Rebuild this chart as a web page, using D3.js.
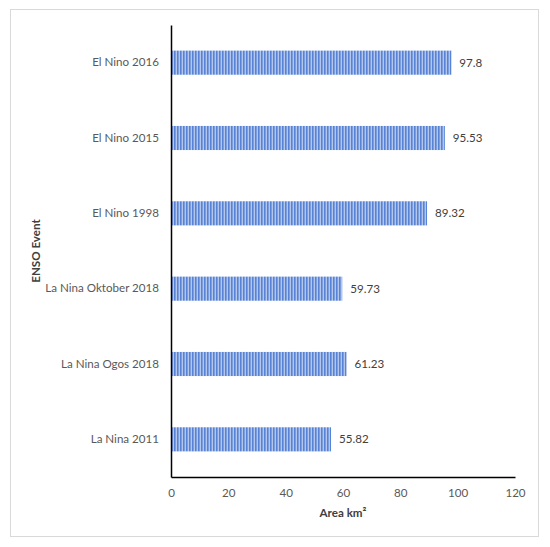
<!DOCTYPE html>
<html>
<head>
<meta charset="utf-8">
<script src="https://cdn.jsdelivr.net/npm/d3@7"></script>
<style>
  html, body { margin: 0; padding: 0; background: #fff; }
  text { font-family: Lato, "Open Sans", sans-serif; }
</style>
</head>
<body>
<svg id="chart" width="550" height="547"></svg>
<script>
const categories = ["El Nino 2016", "El Nino 2015", "El Nino 1998", "La Nina Oktober 2018", "La Nina Ogos 2018", "La Nina 2011"];
const values = [97.8, 95.53, 89.32, 59.73, 61.23, 55.82];
const xTicks = [0, 20, 40, 60, 80, 100, 120];

const svg = d3.select("#chart");
const x0 = 171, x1 = 515, y0 = 25, y1 = 477;
const fs = 11.6;

// outer frame
svg.append("rect").attr("x", 10.5).attr("y", 9.5).attr("width", 528).attr("height", 527)
  .attr("fill", "#fff").attr("stroke", "#d9d9d9").attr("stroke-width", 1);

// pattern
const defs = svg.append("defs");
const pat = defs.append("pattern").attr("id", "stripes").attr("patternUnits", "userSpaceOnUse")
  .attr("width", 3).attr("height", 10);
pat.append("rect").attr("width", 3).attr("height", 10).attr("fill", "#b2c6ee");
pat.append("rect").attr("width", 1.6).attr("height", 10).attr("fill", "#5882d4");

const x = d3.scaleLinear().domain([0, 120]).range([x0, x1]);
const y = d3.scaleBand().domain(categories).range([y0, y1]).paddingInner(0.68).paddingOuter(0.34);

// bars
svg.append("g").selectAll("rect").data(categories).join("rect")
  .attr("x", x(0) + 1)
  .attr("y", d => y(d))
  .attr("width", (d, i) => x(values[i]) - x(0) - 1)
  .attr("height", y.bandwidth())
  .attr("fill", "url(#stripes)");

// value labels
svg.append("g").selectAll("text").data(categories).join("text")
  .attr("x", (d, i) => x(values[i]) + 8)
  .attr("y", d => y(d) + y.bandwidth() / 2)
  .attr("dy", "0.35em")
  .attr("font-size", fs)
  .attr("fill", "#404040")
  .text((d, i) => values[i]);

// y axis
const yAxis = svg.append("g").attr("transform", `translate(${x0},0)`)
  .call(d3.axisLeft(y).tickSize(0).tickPadding(12));
yAxis.select(".domain").attr("stroke", "#000").attr("stroke-width", 1.5);
yAxis.selectAll("text").attr("font-size", fs).attr("fill", "#595959").attr("font-family", "Lato, sans-serif");

// x axis
const xAxis = svg.append("g").attr("transform", `translate(0,${y1})`)
  .call(d3.axisBottom(x).tickValues(xTicks).tickSize(0).tickPadding(12));
xAxis.select(".domain").attr("stroke", "#000").attr("stroke-width", 1.5);
xAxis.selectAll("text").attr("font-size", fs).attr("fill", "#595959").attr("font-family", "Lato, sans-serif");

// axis titles
svg.append("text").attr("x", (x0 + x1) / 2).attr("y", 517).attr("text-anchor", "middle")
  .attr("font-size", fs).attr("font-weight", "bold").attr("fill", "#404040").text("Area km²");
svg.append("text").attr("transform", `translate(40,${(y0 + y1) / 2}) rotate(-90)`)
  .attr("text-anchor", "middle").attr("font-size", fs).attr("font-weight", "bold")
  .attr("fill", "#404040").text("ENSO Event");
</script>
</body>
</html>
